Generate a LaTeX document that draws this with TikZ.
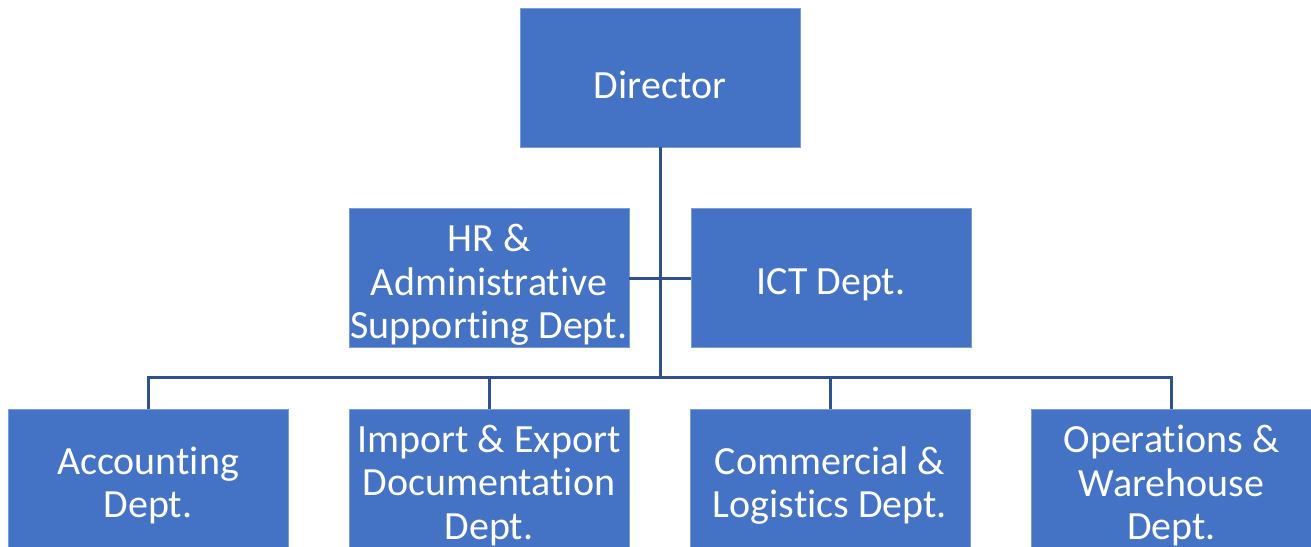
\documentclass[tikz,border=0pt]{standalone}
\usepackage{fontspec}
\setmainfont{Carlito}[Ligatures={NoCommon}]
\definecolor{boxblue}{HTML}{4472C4}
\definecolor{lineblue}{HTML}{2F528F}
\begin{document}
\begin{tikzpicture}[x=1pt,y=-1pt,
  orgbox/.style={fill=boxblue, draw=boxblue!70!white, line width=0.8pt, minimum width=280pt, minimum height=139pt, inner sep=0pt},
  orgtext/.style={text=white, align=center, inner sep=0pt, font=\fontsize{40}{43.5}\selectfont},
  conn/.style={draw=lineblue, line width=3pt}]
\useasboundingbox (0,0) rectangle (1311,546);
\clip (0,0) rectangle (1311,546);
\fill[white] (0,0) rectangle (1311,546);
\node[orgbox] (dir) at (660,77.5) {};
\node[orgbox] (hr) at (489,278) {};
\node[orgbox] (ict) at (831,278) {};
\node[orgbox] (acc) at (148,478.5) {};
\node[orgbox] (imp) at (489,478.5) {};
\node[orgbox] (com) at (830,478.5) {};
\node[orgbox] (ops) at (1171.5,478.5) {};
\node[orgtext] (tdir) at ([yshift=-7pt]dir.center) {Director};
\node[orgtext] (thr) at ([yshift=-7pt]hr.center) {HR \&\\Administrative\\Supporting Dept.};
\node[orgtext] (tict) at ([yshift=-7pt]ict.center) {ICT Dept.};
\node[orgtext] (tacc) at ([yshift=-7pt]acc.center) {Accounting\\Dept.};
\node[orgtext] (timp) at ([yshift=-7pt]imp.center) {Import \& Export\\Documentation\\Dept.};
\node[orgtext] (tcom) at ([yshift=-7pt]com.center) {Commercial \&\\Logistics Dept.};
\node[orgtext] (tops) at ([yshift=-7pt]ops.center) {Operations \&\\Warehouse\\Dept.};
\coordinate (bus) at (660,377);
\draw[conn] (dir.south) -- (bus);
\draw[conn] (hr.east) -- (ict.west);
\draw[conn] (acc.north) |- (bus) -| (ops.north);
\draw[conn] (imp.north) -- (imp.north |- bus);
\draw[conn] (com.north) -- (com.north |- bus);
\end{tikzpicture}
\end{document}
